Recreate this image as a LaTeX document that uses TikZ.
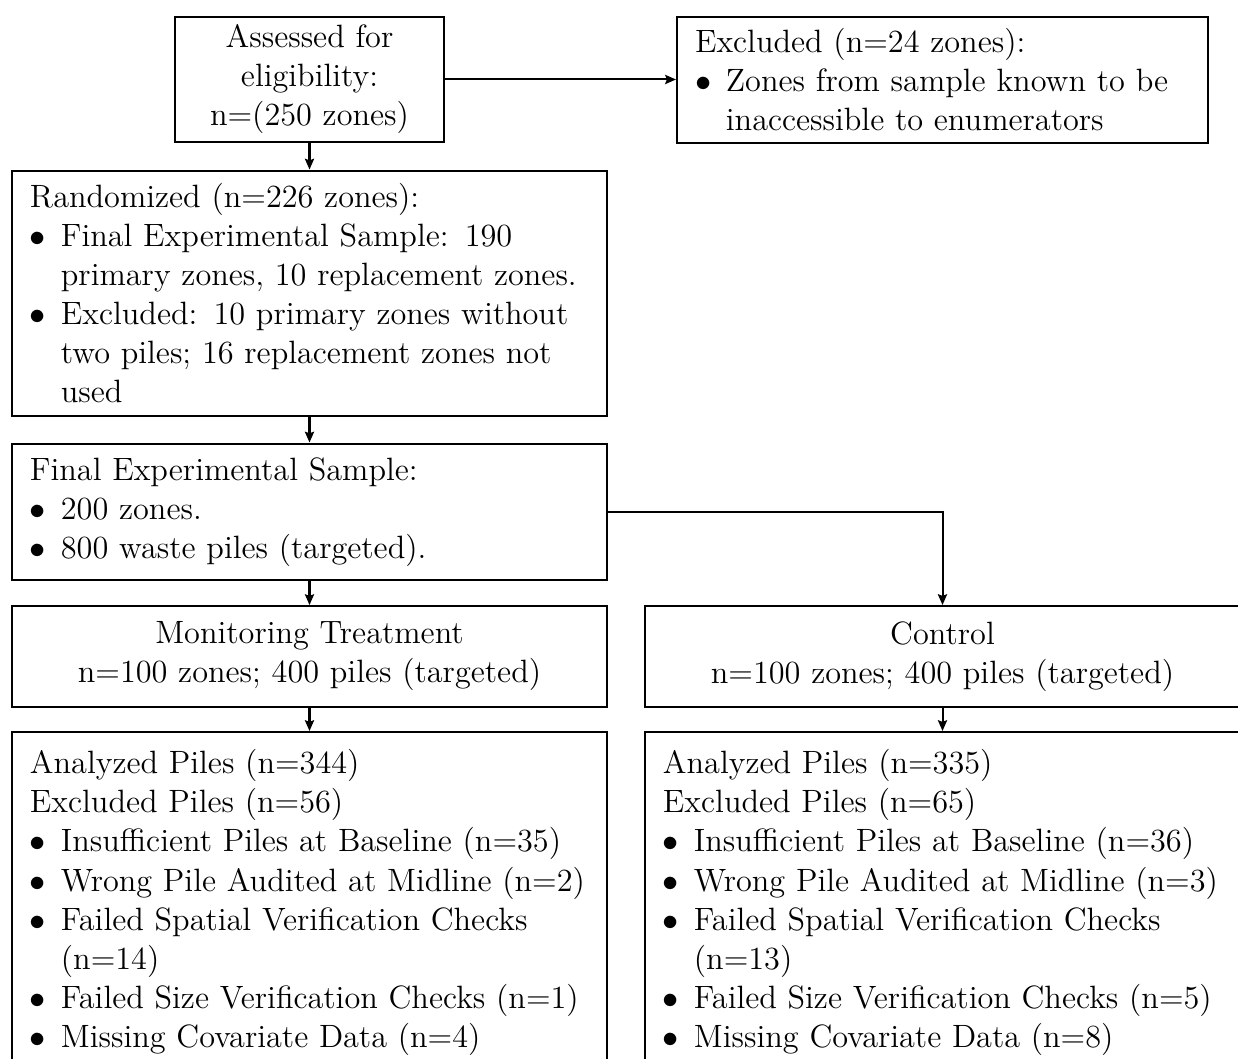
\documentclass[tikz,border=0pt]{standalone}
\usetikzlibrary{arrows.meta}
\newcommand\bul{\par\hangindent=11.5pt\hangafter=1\noindent\hbox to 11.5pt{$\bullet$\hfil}}
\tikzset{
  box/.style={draw, line width=0.75pt, inner xsep=6.7pt, inner ysep=0pt,
    font=\fontsize{12}{14.5}\selectfont, align=left, text width=207.8pt,
    minimum width=221.2pt},
  arr/.style={-{Stealth[length=4pt,width=3.4pt,inset=0.6pt]}, line width=0.75pt}
}
\begin{document}
\begin{tikzpicture}[x=0.3717pt,y=-0.3717pt]
\useasboundingbox (0,0) rectangle (1238,1059);
\node[box, align=center, text width=86.6pt, minimum width=100pt, minimum height=46.5pt] (A) at (309.5,79.5)
  {Assessed for\\ eligibility:\\ n=(250 zones)};
\node[box, text width=184pt, minimum width=197.4pt, minimum height=46.8pt] (B) at (942.5,80)
  {Excluded (n=24 zones):\bul Zones from sample known to be\newline inaccessible to enumerators\par};
\node[box, minimum height=91.4pt] (C) at (309.5,293.5)
  {Randomized (n=226 zones):\bul Final Experimental Sample: 190\newline primary zones, 10 replacement zones.\bul Excluded: 10 primary zones without\newline two piles; 16 replacement zones not\newline used\par};
\node[box, minimum height=50.9pt] (D) at (309.5,512)
  {Final Experimental Sample:\bul 200 zones.\bul 800 waste piles (targeted).\par};
\node[box, align=center, minimum height=37.5pt] (E) at (309.5,656.5)
  {Monitoring Treatment\\ n=100 zones; 400 piles (targeted)};
\node[box, align=center, minimum height=37.5pt] (F) at (942.5,656.5)
  {Control\\ n=100 zones; 400 piles (targeted)};
\node[box, anchor=north, inner ysep=6.6pt] (G) at (309.5,731)
  {Analyzed Piles (n=344)\par Excluded Piles (n=56)\bul Insufficient Piles at Baseline (n=35)\bul Wrong Pile Audited at Midline (n=2)\bul Failed Spatial Verification Checks\newline (n=14)\bul Failed Size Verification Checks (n=1)\bul Missing Covariate Data (n=4)\par};
\node[box, anchor=north, inner ysep=6.6pt] (H) at (942.5,731)
  {Analyzed Piles (n=335)\par Excluded Piles (n=65)\bul Insufficient Piles at Baseline (n=36)\bul Wrong Pile Audited at Midline (n=3)\bul Failed Spatial Verification Checks\newline (n=13)\bul Failed Size Verification Checks (n=5)\bul Missing Covariate Data (n=8)\par};
\draw[arr] (A.south) -- (C.north);
\draw[arr] (A.east) -- (B.west |- A.east);
\draw[arr] (C.south) -- (D.north);
\draw[arr] (D.south) -- (E.north);
\draw[arr] (D.east) -| (F.north);
\draw[arr] (E.south) -- (G.north);
\draw[arr] (F.south) -- (H.north);
\end{tikzpicture}
\end{document}
